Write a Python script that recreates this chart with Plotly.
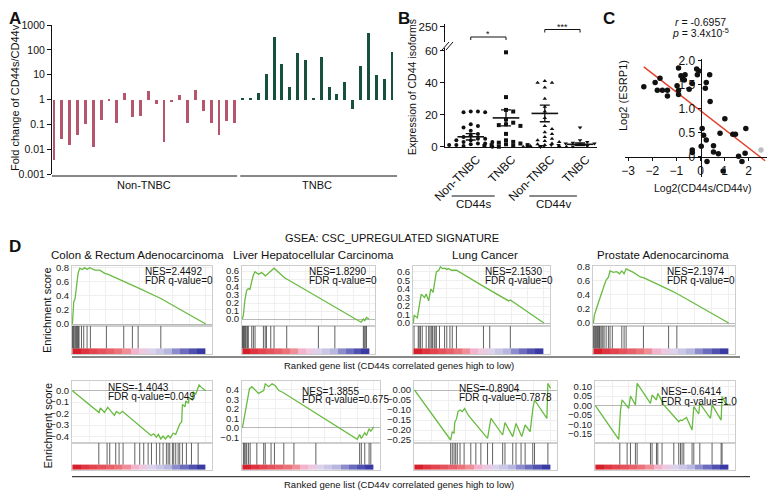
import plotly.graph_objects as go

W, H = 775, 490
OFF = 8  # the page body margin pushes the figure 8 px right and down
FONT = "Liberation Sans, Arial, Helvetica, sans-serif"

# ---- A: fold change CD44s/CD44v per tumour
non_tnbc_fc = [0.0036, 0.025, 0.015, 0.037, 0.10, 0.012, 0.15, 0.88, 0.115, 1.85, 0.2, 0.21,
               2.2, 0.69, 0.02, 0.83, 1.45, 0.11, 2.45, 0.35, 0.11, 0.037, 0.14, 0.115]
tnbc_fc = [1.05, 1.17, 1.75, 10.5, 335, 28, 3.05, 76, 38, 1.17, 52, 3.05, 1.6, 5.1, 0.43,
           22, 455, 9.3, 6.4, 83]
a_ticks = [0.001, 0.01, 0.1, 1, 10, 100, 1000]

# ---- B: expression of CD44 isoforms
b_groups = ["Non-TNBC", "TNBC", "Non-TNBC", "TNBC"]
cd44s_non_tnbc = [22, 22, 21.5, 21.5, 14, 13, 12, 10, 8, 7, 6, 5, 5, 4, 4, 3, 3, 2, 2, 1.5, 1, 1, 0.5, 0]
cd44s_tnbc = [59, 31, 23, 22, 17, 15, 14, 13.5, 13, 8, 4, 3, 2.5, 2, 1.5, 1, 1, 0.5, 0.5, 0]
cd44v_non_tnbc = [41, 40, 40, 37, 30, 25, 22, 18, 13, 11, 9, 8, 6, 5, 4, 3.5, 3, 2, 1.5, 1, 0.5, 0.5, 0, 0]
cd44v_tnbc = [12, 4, 3, 2.5, 2, 2, 1.5, 1.5, 1, 1, 1, 0.8, 0.5, 0.5, 0.3, 0.3, 0.2, 0.1, 0, 0]
b_means = [6.2, 18.0, 20.8, 1.5]
b_sems = [2.0, 5.0, 5.2, 0.8]

# ---- C: ESRP1 vs CD44s/CD44v
log2_ratio = [-2.35, -1.88, -1.68, -1.79, -1.58, -1.37, -1.37, -0.91, -0.91, -0.91, -0.97, -0.81,
              -0.74, -0.64, -0.67, -0.47, -0.34, -0.16, -0.07, -0.13, 0.24, 0.2, 0.38, 0.40, 0.07,
              0.13, 0.24, 0.03, -0.34, -0.34, 0.27, 0.54, 0.54, 0.74, 0.81, 1.01, 1.34, 1.45, 1.58,
              1.72, 1.88, 1.85, 0.94]
log2_esrp1 = [1.46, 1.55, 1.64, 1.39, 1.39, 1.39, 1.27, 1.85, 1.39, 1.30, 1.48, 1.69, 1.62, 1.71,
              1.60, 1.41, 1.53, 1.83, 1.79, 1.71, 1.55, 1.43, 1.71, 1.15, 0.59, 0.45, 0.35, 0.22,
              0.14, 0.09, -0.10, 0.23, 0.10, 0.06, 0.49, 0.79, 0.47, 0.47, 0.01, -0.10, 0.59, 0.07,
              -0.30]
grey_ratio = [2.51]
grey_esrp1 = [0.14]
fit_slope, fit_intercept = -0.39, 0.96
fit_span = [-2.35, 2.68]

# ---- D: GSEA running enrichment scores (x = rank fraction)
colon_s_x = [0, 0.005, 0.01, 0.02, 0.025, 0.035, 0.043, 0.055, 0.075, 0.092, 0.11, 0.13, 0.168,
             0.205, 0.243, 0.268, 0.385, 0.455, 0.493, 0.663, 1.0]
colon_s_y = [0, 0.17, 0.31, 0.36, 0.46, 0.62, 0.72, 0.785, 0.77, 0.795, 0.77, 0.795, 0.76, 0.76,
             0.715, 0.70, 0.60, 0.55, 0.51, 0.36, 0.0]
colon_s_hits = [0, 0.005, 0.01, 0.018, 0.025, 0.03, 0.038, 0.045, 0.05, 0.068, 0.085, 0.11, 0.135,
                0.255, 0.385, 0.45, 0.493, 0.663]

liver_s_x = [0, 0.008, 0.02, 0.034, 0.047, 0.06, 0.074, 0.087, 0.1, 0.126, 0.153, 0.18, 0.197,
             0.224, 0.25, 0.337, 0.35, 0.937, 0.955, 0.966, 0.98, 1.0]
liver_s_y = [0, 0.05, 0.24, 0.36, 0.38, 0.37, 0.47, 0.55, 0.59, 0.56, 0.58, 0.54, 0.56, 0.6,
             0.635, 0.51, 0.5, -0.04, 0.0, -0.02, 0.02, 0.0]
liver_s_hits = [0, 0.005, 0.01, 0.016, 0.024, 0.03, 0.04, 0.047, 0.074, 0.087, 0.1, 0.166, 0.18,
                0.19, 0.224, 0.25, 0.35, 0.6, 0.73, 0.955, 0.962, 0.97, 0.98]

lung_s_x = [0, 0.005, 0.03, 0.044, 0.06, 0.085, 0.098, 0.117, 0.134, 0.151, 0.166, 0.176, 0.195,
            0.207, 0.224, 0.239, 0.256, 0.268, 0.293, 0.33, 0.537, 0.585, 0.73, 0.743, 1.0]
lung_s_y = [0, 0.09, 0.06, 0.2, 0.34, 0.3, 0.34, 0.26, 0.4, 0.36, 0.51, 0.6, 0.62, 0.66, 0.64,
            0.645, 0.63, 0.64, 0.62, 0.62, 0.43, 0.39, 0.26, 0.27, 0.0]
lung_s_hits = [0.005, 0.037, 0.044, 0.054, 0.068, 0.098, 0.117, 0.127, 0.137, 0.146, 0.159, 0.166,
               0.176, 0.2, 0.239, 0.256, 0.28, 0.298, 0.33, 0.537, 0.585, 0.743]

prostate_s_x = [0, 0.007, 0.025, 0.037, 0.05, 0.062, 0.079, 0.094, 0.111, 0.123, 0.148, 0.173,
                0.193, 0.21, 0.227, 0.242, 0.296, 0.346, 0.37, 0.543, 0.617, 1.0]
prostate_s_y = [0, 0.11, 0.22, 0.29, 0.36, 0.46, 0.53, 0.61, 0.65, 0.74, 0.72, 0.73, 0.70, 0.74,
                0.70, 0.77, 0.72, 0.655, 0.645, 0.49, 0.42, 0.0]
prostate_s_hits = [0, 0.007, 0.015, 0.022, 0.03, 0.037, 0.045, 0.05, 0.062, 0.07, 0.079, 0.094,
                   0.111, 0.123, 0.14, 0.21, 0.227, 0.242, 0.37, 0.556, 0.617]

colon_v_x = [0, 0.2, 0.21, 0.24, 0.265, 0.315, 0.33, 0.355, 0.375, 0.555, 0.59, 0.61, 0.63, 0.645,
             0.663, 0.68, 0.698, 0.718, 0.735, 0.755, 0.775, 0.79, 0.805, 0.82, 0.825, 0.845, 0.85,
             0.87, 0.875, 0.9, 0.905, 0.925, 0.95, 0.975, 1.0]
colon_v_y = [0, -0.19, -0.15, -0.19, -0.145, -0.215, -0.18, -0.2, -0.18, -0.355, -0.39, -0.375,
             -0.405, -0.38, -0.42, -0.395, -0.42, -0.39, -0.41, -0.37, -0.38, -0.335, -0.29, -0.27,
             -0.12, -0.14, -0.09, -0.11, -0.06, -0.08, -0.01, -0.03, 0.05, 0.02, 0.0]
colon_v_hits = [0.198, 0.26, 0.28, 0.325, 0.35, 0.38, 0.468, 0.505, 0.535, 0.568, 0.593, 0.63,
                0.655, 0.68, 0.705, 0.718, 0.73, 0.75, 0.76, 0.775, 0.793, 0.805, 0.825, 0.855,
                0.893, 0.943]

liver_v_x = [0, 0.013, 0.026, 0.038, 0.054, 0.072, 0.123, 0.162, 0.174, 0.2, 0.226, 0.251, 0.277,
             0.303, 0.367, 0.444, 0.546, 0.874, 0.892, 0.905, 0.931, 0.944, 0.964, 0.977, 1.0]
liver_v_y = [0, 0.09, 0.2, 0.27, 0.41, 0.43, 0.36, 0.39, 0.46, 0.43, 0.46, 0.44, 0.39, 0.375, 0.32,
             0.25, 0.16, -0.12, -0.07, -0.11, -0.05, -0.08, -0.01, -0.035, 0.01]
liver_v_hits = [0.008, 0.015, 0.026, 0.033, 0.046, 0.059, 0.11, 0.162, 0.174, 0.218, 0.244, 0.315,
                0.392, 0.559, 0.892, 0.905, 0.931, 0.964, 0.977]

lung_v_x = [0, 0.266, 0.278, 0.291, 0.296, 0.31, 0.32, 0.335, 0.352, 0.369, 0.394, 0.414, 0.537,
            0.562, 0.648, 0.665, 0.722, 0.746, 0.788, 0.813, 0.85, 0.87, 0.882, 0.973, 0.98, 1.0]
lung_v_y = [0, -0.25, -0.208, -0.217, -0.163, -0.142, -0.108, -0.1, -0.108, -0.092, -0.125, -0.142,
            -0.242, -0.142, -0.225, -0.163, -0.233, -0.167, -0.233, -0.175, -0.208, -0.092, -0.05,
            -0.142, 0.033, 0.008]
lung_v_hits = [0.266, 0.278, 0.291, 0.303, 0.315, 0.335, 0.365, 0.414, 0.451, 0.488, 0.537, 0.574,
               0.648, 0.665, 0.722, 0.746, 0.783, 0.813, 0.869, 0.882, 0.98]

prostate_v_x = [0, 0.175, 0.188, 0.2, 0.25, 0.263, 0.3, 0.313, 0.413, 0.425, 0.458, 0.468, 0.5,
                0.513, 0.625, 0.638, 0.65, 0.668, 0.683, 0.725, 0.738, 0.775, 0.783, 0.863, 0.875,
                0.943, 0.95, 0.975, 1.0]
prostate_v_y = [0, -0.178, -0.026, 0.03, -0.014, 0.051, 0.004, 0.118, 0.012, 0.056, 0.03, 0.065,
                0.021, 0.004, -0.085, -0.076, -0.079, -0.067, -0.062, -0.128, -0.005, -0.044, 0.012,
                -0.067, 0.004, -0.076, 0.048, 0.012, 0.004]
prostate_v_hits = [0.183, 0.238, 0.263, 0.3, 0.313, 0.413, 0.425, 0.458, 0.468, 0.5, 0.588, 0.625,
                   0.638, 0.65, 0.663, 0.725, 0.738, 0.783, 0.875, 0.943, 0.95]

cancer_names = ["Colon & Rectum Adenocarcinoma", "Liver Hepatocellular Carcinoma",
                "Lung Cancer", "Prostate Adenocarcinoma"]
nes_s = ["NES=2.4492", "NES=1.8290", "NES=2.1530", "NES=2.1974"]
fdr_s = ["FDR q-value=0", "FDR q-value=0", "FDR q-value=0", "FDR q-value=0"]
nes_v = ["NES=-1.4043", "NES=1.3855", "NES=-0.8904", "NES=-0.6414"]
fdr_v = ["FDR q-value=0.049", "FDR q-value=0.675", "FDR q-value=0.7878", "FDR q-value=1.0"]

# ranked-list heat bar, high (red) to low (blue)
BAR_COLORS = ["#d71f2b", "#df3540", "#e3444e", "#e6525b", "#e86069", "#eb7279", "#ef8e96",
              "#f2b4cc", "#eec8de", "#ddd2ec", "#cac6e6", "#b6b6de", "#8c8ccd", "#6c6cbe",
              "#5050b0", "#3a3aa4"]


def fx(px):
    return (px - OFF) / W


def fy(py):
    return 1 - (py - OFF) / H


fig = go.Figure()
layout = {}
shapes = []
annotations = []
ids = {"x": 0, "y": 0}


def new_axis(kind, props):
    ids[kind] += 1
    n = ids[kind]
    layout[kind + "axis" + ("" if n == 1 else str(n))] = props
    return kind + ("" if n == 1 else str(n))


def axis_key(aid):
    return aid[0] + "axis" + aid[1:]


BASE = dict(showgrid=False, zeroline=False, color="#111", tickfont=dict(size=10.5, family=FONT))


def text(t, x, y, size, xref="paper", **kw):
    d = dict(text=t, x=fx(x) if xref == "paper" else x, y=fy(y), xref=xref, yref="paper",
             showarrow=False, xanchor="center", yanchor="middle",
             font=dict(size=size, family=FONT, color=kw.pop("color", "#111")))
    d.update(kw)
    annotations.append(d)


def hline(x0, x1, y, color="#111", width=1, xref="paper"):
    if xref == "paper":
        x0, x1 = fx(x0), fx(x1)
    shapes.append(dict(type="line", xref=xref, yref="paper", x0=x0, x1=x1, y0=fy(y), y1=fy(y),
                       line=dict(color=color, width=width)))


# ================= A =================
xa = new_axis("x", dict(BASE, domain=[fx(52), fx(397)], range=[-0.25, 43.64], visible=False))
ya = new_axis("y", dict(BASE, type="log", domain=[fy(174), fy(25)], range=[-3, 3],
                        tickvals=a_ticks, ticktext=[f"{v:g}" for v in a_ticks],
                        showline=True, linecolor="#111", ticks="outside", ticklen=4))
layout[axis_key(xa)]["anchor"] = ya
layout[axis_key(ya)]["anchor"] = xa
n1 = len(non_tnbc_fc)
n2 = len(tnbc_fc)
fig.add_trace(go.Bar(x=list(range(n1)), y=[v - 1 for v in non_tnbc_fc], base=1, width=0.37,
                     marker=dict(color="#b5566e", line_width=0), xaxis=xa, yaxis=ya))
fig.add_trace(go.Bar(x=list(range(n1, n1 + n2)), y=[v - 1 for v in tnbc_fc], base=1, width=0.37,
                     marker=dict(color="#17503c", line_width=0), xaxis=xa, yaxis=ya))
shapes.append(dict(type="line", xref=xa + " domain", yref=ya, x0=0, x1=1, y0=0, y1=0,
                   line=dict(color="#111", width=1.2)))
hline(-0.25, n1 - 0.7, 176, xref=xa)
hline(n1 - 0.3, n1 + n2 - 0.36, 176, xref=xa)
text("Non-TNBC", (n1 - 1) / 2, 185, 11, xref=xa)
text("TNBC", n1 + (n2 - 1) / 2, 185, 11, xref=xa)
text("Fold change of CD44s/CD44v", 15, 98, 11, textangle=-90)

# ================= B =================
b_x = [1, 2, 3.1, 4.1]
B_YPX = (146.7 - 48.3) / 61.5
B_XPX = (597 - 445) / (4.58 - 0.27)
xb = new_axis("x", dict(BASE, domain=[fx(445), fx(597)], range=[0.27, 4.58], tickvals=b_x,
                        ticktext=b_groups, tickangle=-45, ticks="", showline=True,
                        ticklabelshift=6, linecolor="#111", tickfont=dict(size=12, family=FONT)))
yb = new_axis("y", dict(BASE, domain=[fy(146.7), fy(48.3)], range=[0, 61.5],
                        tickvals=[0, 20, 40, 60], showline=True, linecolor="#111",
                        ticks="outside", ticklen=4, tickfont=dict(size=11.5, family=FONT)))
yb2 = new_axis("y", dict(BASE, domain=[fy(42), fy(24)], range=[238, 252], tickvals=[250],
                         showline=True, linecolor="#111", ticks="outside", ticklen=4,
                         tickfont=dict(size=11.5, family=FONT)))
layout[axis_key(xb)]["anchor"] = yb
layout[axis_key(yb)]["anchor"] = xb
layout[axis_key(yb2)]["anchor"] = xb


def swarm(vals, step=3.6, size=3.8):
    order = sorted(range(len(vals)), key=lambda i: -vals[i])
    placed = []
    ks = [0] * len(vals)
    cands = [0]
    for k in range(1, 12):
        cands += [k, -k]
    for i in order:
        y = vals[i] * B_YPX
        for k in cands:
            if all(abs(y - py) >= size or abs(k - pk) * step >= size for py, pk in placed):
                break
        placed.append((y, k))
        ks[i] = k
    return ks


b_sets = [cd44s_non_tnbc, cd44s_tnbc, cd44v_non_tnbc, cd44v_tnbc]
b_symbols = ["circle", "square", "triangle-up", "triangle-down"]
for cx, vals, sym in zip(b_x, b_sets, b_symbols):
    ks = swarm(vals)
    fig.add_trace(go.Scatter(x=[cx + k * 3.6 / B_XPX for k in ks], y=vals, mode="markers",
                             marker=dict(symbol=sym, size=4, color="#111"), cliponaxis=False,
                             xaxis=xb, yaxis=yb))
fig.add_trace(go.Scatter(x=b_x, y=b_means, mode="markers", cliponaxis=False,
                         marker=dict(symbol="line-ew", size=19, line=dict(width=1.6, color="#111")),
                         error_y=dict(type="data", array=b_sems, color="#111", thickness=1.3,
                                      width=5), xaxis=xb, yaxis=yb))
fig.add_trace(go.Scatter(x=[], y=[], xaxis=xb, yaxis=yb2))
# axis break marks
for off in (0, 4):
    shapes.append(dict(type="line", xref="paper", yref="paper", x0=fx(442 + off), x1=fx(449 + off),
                       y0=fy(50), y1=fy(42), line=dict(color="#111", width=1)))
# significance brackets
for (a, b), ypx, star in [((b_x[0], b_x[1]), 37, "*"), ((b_x[2], b_x[3]), 29.5, "***")]:
    for seg in [(a, b, ypx, ypx), (a, a, ypx, ypx + 3), (b, b, ypx, ypx + 3)]:
        shapes.append(dict(type="line", xref=xb, yref="paper", x0=seg[0], x1=seg[1],
                           y0=fy(seg[2]), y1=fy(seg[3]), line=dict(color="#111", width=1)))
    text(star, (a + b) / 2, ypx - 3, 9, xref=xb)
hline(0.46, 1.68, 196, xref=xb)
hline(2.66, 4.01, 196, xref=xb)
text("CD44s", 473, 204, 11.5)
text("CD44v", 553, 204, 11.5)
text("Expression of CD44 isoforms", 412, 87, 10.5, textangle=-90)

# ================= C =================
xc = new_axis("x", dict(BASE, domain=[fx(625), fx(775)], range=[-3.13, 3.09], anchor="free",
                        position=fy(156.7), tickvals=[-3, -2, -1, 0, 1, 2], showline=True,
                        linecolor="#111", ticks="outside", ticklen=3,
                        tickfont=dict(size=12, family=FONT)))
yc = new_axis("y", dict(BASE, domain=[fy(177), fy(59)], range=[-0.424, 2.04], anchor="free",
                        position=fx(700.5), tickvals=[0, 0.5, 1, 1.5, 2],
                        ticktext=["0", "0.5", "1.0", "1.5", "2.0"], showline=True,
                        linecolor="#111", ticks="outside", ticklen=3,
                        tickfont=dict(size=12, family=FONT)))
fig.add_trace(go.Scatter(x=fit_span, y=[fit_intercept + fit_slope * v for v in fit_span],
                         mode="lines", line=dict(color="#e2402b", width=1.5), xaxis=xc, yaxis=yc))
fig.add_trace(go.Scatter(x=log2_ratio, y=log2_esrp1, mode="markers", cliponaxis=False,
                         marker=dict(size=5.5, color="#111"), xaxis=xc, yaxis=yc))
fig.add_trace(go.Scatter(x=grey_ratio, y=grey_esrp1, mode="markers", cliponaxis=False,
                         marker=dict(size=5.5, color="#bdbdbd"), xaxis=xc, yaxis=yc))
text("<i>r</i> = -0.6957", 700, 22, 10.5)
text("<i>p</i> = 3.4x10<sup>-5</sup>", 700, 33, 10.5)
text("Log2 (ESRP1)", 623, 96, 11, textangle=-90)
text("Log2(CD44s/CD44v)", 702, 188, 10.5)

# ================= D =================
rows = [
    dict(es=(266, 326), hit=354, label=365, line=(357, 740),
         text_y=[(271, 280)] * 4, text_x=[143, 307, 483, 665],
         xs=[(72, 212), (242, 375), (413, 550), (593, 735)],
         yr=[(-0.028, 0.818), (-0.0875, 0.6625), (-0.035, 0.67), (-0.042, 0.81)],
         dt=[0.2, 0.1, 0.1, 0.2], fmt=[".1f"] * 4,
         curves=[(colon_s_x, colon_s_y, colon_s_hits), (liver_s_x, liver_s_y, liver_s_hits),
                 (lung_s_x, lung_s_y, lung_s_hits),
                 (prostate_s_x, prostate_s_y, prostate_s_hits)],
         nes=nes_s, fdr=fdr_s,
         caption="Ranked gene list (CD44s correlated genes high to low)"),
    dict(es=(381, 443), hit=470, label=484.5, line=(476.7, 750),
         text_y=[(387, 396), (391, 399), (388, 397), (391, 401)], text_x=[106, 300, 457, 659],
         xs=[(72, 212), (242, 380), (414, 557), (595, 735)],
         yr=[(-0.455, 0.084), (-0.158, 0.49), (-0.265, 0.045), (-0.197, 0.13)],
         dt=[0.1, 0.1, 0.05, 0.05], fmt=[".1f", ".1f", ".2f", ".2f"],
         curves=[(colon_v_x, colon_v_y, colon_v_hits), (liver_v_x, liver_v_y, liver_v_hits),
                 (lung_v_x, lung_v_y, lung_v_hits),
                 (prostate_v_x, prostate_v_y, prostate_v_hits)],
         nes=nes_v, fdr=fdr_v,
         caption="Ranked gene list (CD44v correlated genes high to low)"),
]
BOX = dict(showline=True, mirror=True, linecolor="#cdcdcd", linewidth=1)
XR = [-0.003, 1.047]
nb = len(BAR_COLORS)
for row in rows:
    es_top, es_bot = row["es"]
    for i in range(4):
        x0, x1 = row["xs"][i]
        cx, cy, hits = row["curves"][i]
        xe = new_axis("x", dict(BASE, **BOX, domain=[fx(x0), fx(x1)], range=XR,
                                showticklabels=False, ticks="", showgrid=True,
                                gridcolor="#efefef", dtick=0.125, tick0=0))
        ye = new_axis("y", dict(BASE, **BOX, domain=[fy(es_bot), fy(es_top)], range=row["yr"][i],
                                dtick=row["dt"][i], tick0=0, tickformat=row["fmt"][i], ticks="",
                                showgrid=True, gridcolor="#efefef", zeroline=True,
                                zerolinecolor="#b8b8b8", zerolinewidth=1,
                                tickfont=dict(size=9.5, family=FONT, color="#222")))
        xh = new_axis("x", dict(BASE, **BOX, domain=[fx(x0), fx(x1)], range=XR,
                                showticklabels=False, ticks=""))
        yh = new_axis("y", dict(BASE, **BOX, domain=[fy(row["hit"]), fy(es_bot)],
                                range=[-0.25, 1], showticklabels=False, ticks=""))
        layout[axis_key(xe)]["anchor"] = ye
        layout[axis_key(ye)]["anchor"] = xe
        layout[axis_key(xh)]["anchor"] = yh
        layout[axis_key(yh)]["anchor"] = xh
        fig.add_trace(go.Scatter(x=cx, y=cy, mode="lines", line=dict(color="#68bb40", width=1.3),
                                 xaxis=xe, yaxis=ye))
        hx, hy = [], []
        for h in hits:
            hx += [h, h, None]
            hy += [0, 1, None]
        fig.add_trace(go.Heatmap(z=[list(range(nb))], x0=0.5 / nb, dx=1 / nb, y0=-0.125, dy=0.25,
                                 colorscale=[[k / (nb - 1), c] for k, c in enumerate(BAR_COLORS)],
                                 zmin=0, zmax=nb - 1, showscale=False, xaxis=xh, yaxis=yh))
        fig.add_trace(go.Scatter(x=hx, y=hy, mode="lines", line=dict(color="#3a3a3a", width=0.8),
                                 xaxis=xh, yaxis=yh))
        ty1, ty2 = row["text_y"][i]
        text(row["nes"][i], row["text_x"][i], ty1, 10, xanchor="left")
        text(row["fdr"][i], row["text_x"][i], ty2, 10, xanchor="left")
    hline(72, row["line"][1], row["line"][0])
    text(row["caption"], 399, row["label"], 9.5)
    text("Enrichment score", 47, (es_top + row["hit"]) / 2, 11, textangle=-90)

for name, cxp in zip(cancer_names, [137, 313, 485, 663]):
    text(name, cxp, 255, 11.5)
text("GSEA: CSC_UPREGULATED SIGNATURE", 392, 238, 11)

# panel letters; the top ones hang from the figure's top edge so they are not clipped
for lab, x in [("A", 15), ("B", 404), ("C", 609)]:
    text("<b>" + lab + "</b>", x, OFF, 17, yanchor="top", borderpad=0)
text("<b>D</b>", 15, 246, 17)

fig.update_layout(**layout)
fig.update_layout(width=W, height=H, margin=dict(l=0, r=0, t=0, b=0), showlegend=False,
                  template="none", paper_bgcolor="white", plot_bgcolor="rgba(0,0,0,0)",
                  font=dict(family=FONT, color="#111"), bargap=0, shapes=shapes,
                  annotations=annotations, hovermode=False)
fig.write_html("out.html")
